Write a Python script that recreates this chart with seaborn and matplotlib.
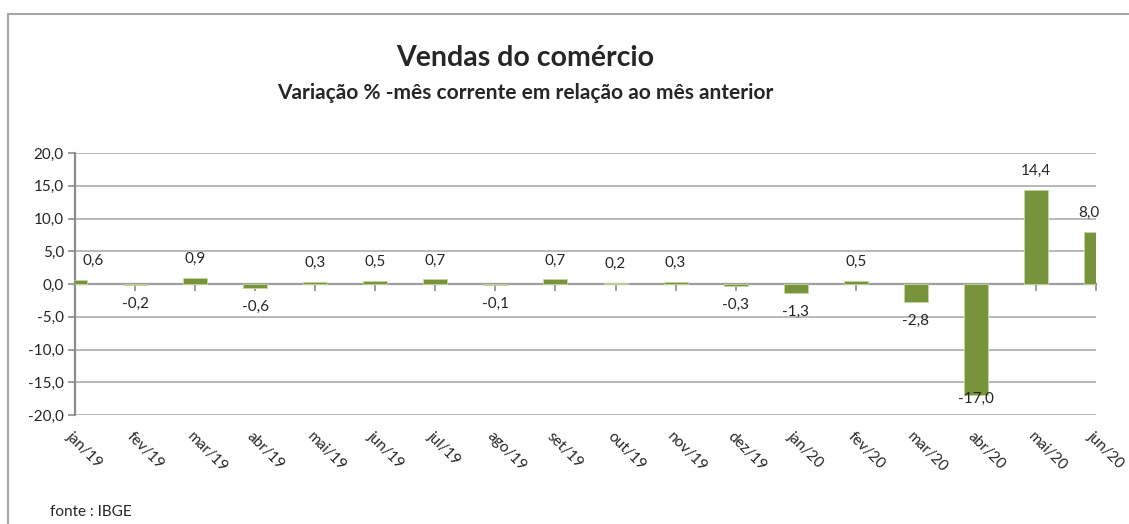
import matplotlib
matplotlib.use("Agg")
import matplotlib.pyplot as plt
import matplotlib.ticker as ticker
import matplotlib.transforms as mtransforms
from matplotlib.lines import Line2D
import seaborn as sns

# DADOS
meses = ["jan/19", "fev/19", "mar/19", "abr/19", "mai/19", "jun/19", "jul/19", "ago/19", "set/19",
         "out/19", "nov/19", "dez/19", "jan/20", "fev/20", "mar/20", "abr/20", "mai/20", "jun/20"]
variacao = [0.6, -0.2, 0.9, -0.6, 0.3, 0.5, 0.7, -0.1, 0.7,
            0.2, 0.3, -0.3, -1.3, 0.5, -2.8, -17.0, 14.4, 8.0]

titulo = "Vendas do comércio"
subtitulo = "Variação % -mês corrente em relação ao mês anterior"
fonte = "fonte : IBGE"

VERDE = "#77933C"
CINZA = "#A6A6A6"
CINZA_EIXO = "#8C8C8C"

sns.set_style("white")
plt.rcParams["font.family"] = ["Lato", "DejaVu Sans"]

fig = plt.figure(figsize=(11.29, 5.24), dpi=100)
ax = fig.add_axes([75 / 1129, 1 - 415 / 524, (1096 - 75) / 1129, (415 - 153) / 524])

sns.barplot(x=meses, y=variacao, color=VERDE, saturation=1, width=0.4,
            edgecolor="#C4D79B", linewidth=0.6, ax=ax, zorder=3)

ax.set_xlim(0, len(meses) - 1)
ax.set_ylim(-20, 20)
ax.set_yticks(range(-20, 21, 5))
ax.yaxis.set_major_formatter(ticker.FuncFormatter(lambda v, pos: f"{v:.1f}".replace(".", ",")))
ax.grid(axis="y", color=CINZA, linewidth=1.1, zorder=0)
ax.set_axisbelow(True)

for s in ["top", "right", "bottom"]:
    ax.spines[s].set_visible(False)
ax.spines["left"].set_color(CINZA_EIXO)
ax.spines["left"].set_linewidth(1.6)
ax.tick_params(axis="y", direction="out", length=5, width=1.2, color=CINZA_EIXO,
               labelsize=11, pad=3, left=True)

# ROTULOS DO EIXO X EMBAIXO
ax.set_xlabel("")
ax.set_ylabel("")
ax.tick_params(axis="x", length=0, pad=14, labelsize=11)
desloc = mtransforms.ScaledTranslation(-6 / 100, 0, fig.dpi_scale_trans)
for lbl in ax.get_xticklabels():
    lbl.set_rotation(-45)
    lbl.set_ha("left")
    lbl.set_va("center")
    lbl.set_rotation_mode("anchor")
    lbl.set_transform(lbl.get_transform() + desloc)

# LINHA DO ZERO COM MARCAS
eixo0 = ax.secondary_xaxis(0.4999)
eixo0.set_xticks(range(len(meses)))
eixo0.set_xticklabels([])
eixo0.spines["bottom"].set_color(CINZA_EIXO)
eixo0.spines["bottom"].set_linewidth(1.6)
eixo0.tick_params(axis="x", direction="out", length=5, width=1.2, color=CINZA_EIXO)

# ROTULOS DE DADOS
for i, v in enumerate(variacao):
    xt = min(max(i, 0.3), len(meses) - 1.12)
    if v >= 0:
        yt = v + 2.9
    else:
        yt = max(v - 2.9, -17.5)
    ax.text(xt, yt, f"{v:.1f}".replace(".", ","), ha="center", va="center", fontsize=11,
            zorder=5)

fig.text(525 / 1129, 1 - 58 / 524, titulo, ha="center", va="center", fontsize=20.5, fontweight="bold")
fig.text(525 / 1129, 1 - 93 / 524, subtitulo, ha="center", va="center", fontsize=15,
         fontweight="bold")
fig.text(50 / 1129, 1 - 512 / 524, fonte, ha="left", va="center", fontsize=11)

# MOLDURA
fig.add_artist(Line2D([8 / 1129, 1], [1 - 14 / 524, 1 - 14 / 524], color=CINZA, linewidth=1.5))
fig.add_artist(Line2D([8 / 1129, 8 / 1129], [0, 1 - 14 / 524], color=CINZA, linewidth=1.5))

fig.savefig("out.png", dpi=100)
